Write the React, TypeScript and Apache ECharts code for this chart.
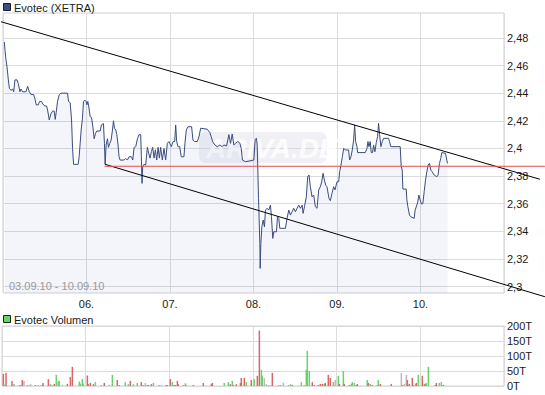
import React, { useEffect, useRef } from "react";
import * as echarts from "echarts";

// x axis in trading days since the open of 03.09.10
const xLabels = ["06.", "07.", "08.", "09.", "10."];
const dateRange = "03.09.10 - 10.09.10";

const priceTimes = [
  0.016, 0.024, 0.036, 0.048, 0.064, 0.076, 0.096, 0.116, 0.128, 0.143, 0.167, 0.183, 0.203, 0.215, 0.235, 0.275,
  0.295, 0.315, 0.335, 0.367, 0.382, 0.398, 0.422, 0.438, 0.462, 0.478, 0.502, 0.522, 0.534, 0.554, 0.574, 0.594,
  0.613, 0.625, 0.637, 0.653, 0.673, 0.693, 0.773, 0.785, 0.805, 0.821, 0.833, 0.845, 0.9, 0.912, 0.924, 0.936,
  0.952, 0.964, 0.98, 0.996, 1.004, 1.016, 1.028, 1.044, 1.06, 1.076, 1.092, 1.108, 1.123, 1.163, 1.179, 1.203,
  1.215, 1.223, 1.235, 1.251, 1.263, 1.279, 1.295, 1.311, 1.323, 1.335, 1.351, 1.363, 1.378, 1.39, 1.402, 1.45,
  1.47, 1.49, 1.51, 1.538, 1.554, 1.57, 1.59, 1.61, 1.629, 1.649, 1.657, 1.665, 1.673, 1.689, 1.709, 1.729,
  1.745, 1.761, 1.777, 1.793, 1.809, 1.825, 1.841, 1.857, 1.873, 1.888, 1.908, 1.928, 1.948, 1.968, 1.988, 2.016,
  2.036, 2.056, 2.068, 2.08, 2.096, 2.116, 2.135, 2.167, 2.179, 2.195, 2.215, 2.259, 2.275, 2.295, 2.327, 2.347,
  2.367, 2.406, 2.446, 2.478, 2.494, 2.51, 2.538, 2.566, 2.598, 2.625, 2.645, 2.677, 2.705, 2.725, 2.745, 2.765,
  2.785, 2.813, 2.837, 2.853, 2.868, 2.904, 3.004, 3.02, 3.036, 3.044, 3.052, 3.06, 3.068, 3.076, 3.08, 3.088,
  3.1, 3.116, 3.131, 3.143, 3.163, 3.183, 3.203, 3.215, 3.231, 3.243, 3.275, 3.287, 3.303, 3.315, 3.382, 3.402,
  3.422, 3.442, 3.462, 3.482, 3.502, 3.522, 3.542, 3.562, 3.582, 3.594, 3.61, 3.633, 3.649, 3.665, 3.681, 3.701,
  3.721, 3.741, 3.761, 3.781, 3.801, 3.817, 3.833, 3.849, 3.864, 3.88, 3.904, 3.92, 3.94, 3.96, 3.976, 4.0,
  4.02, 4.032, 4.048, 4.064, 4.08, 4.1, 4.139, 4.151, 4.167, 4.183, 4.199, 4.211, 4.223, 4.239, 4.247, 4.339,
  4.359, 4.371, 4.383, 4.398, 4.41, 4.426, 4.438, 4.454, 4.47, 4.486, 4.498, 4.51, 4.526, 4.542, 4.558, 4.617,
  4.629, 4.645, 4.757, 4.769, 4.781, 4.789, 4.829, 4.837, 4.849, 4.868, 4.884, 4.924, 4.936, 4.956, 4.968, 4.98,
  4.996, 5.012, 5.028, 5.044, 5.06, 5.076, 5.092, 5.107, 5.123, 5.139, 5.163, 5.195, 5.211, 5.227, 5.243, 5.255,
  5.299, 5.315, 5.323,
];

const priceValues = [
  2.477, 2.471, 2.464, 2.459, 2.4496, 2.4435, 2.442, 2.443, 2.441, 2.4496, 2.4496, 2.447, 2.441, 2.443, 2.441, 2.441,
  2.445, 2.441, 2.439, 2.439, 2.436, 2.4315, 2.4315, 2.434, 2.434, 2.432, 2.4307, 2.4307, 2.4278, 2.4206, 2.425, 2.427,
  2.427, 2.421, 2.426, 2.434, 2.4387, 2.44, 2.44, 2.434, 2.433, 2.4206, 2.4, 2.3885, 2.3885, 2.394, 2.4037, 2.4133,
  2.422, 2.434, 2.435, 2.434, 2.4315, 2.434, 2.43, 2.423, 2.4225, 2.4157, 2.407, 2.411, 2.4126, 2.4126, 2.417, 2.418,
  2.4037, 2.3885, 2.4025, 2.407, 2.4008, 2.4037, 2.406, 2.4133, 2.42, 2.4146, 2.4133, 2.41, 2.4025, 2.394, 2.3916, 2.3916,
  2.3928, 2.3916, 2.394, 2.394, 2.3916, 2.4008, 2.4013, 2.407, 2.41, 2.41, 2.394, 2.3747, 2.3868, 2.3885, 2.388, 2.4008,
  2.3965, 2.393, 2.3977, 2.4008, 2.393, 2.399, 2.3916, 2.4008, 2.393, 2.4008, 2.3916, 2.4, 2.3916, 2.4037, 2.405, 2.4013,
  2.405, 2.405, 2.417, 2.405, 2.4013, 2.4013, 2.394, 2.394, 2.4037, 2.4133, 2.4157, 2.4157, 2.406, 2.405, 2.405, 2.4085,
  2.4146, 2.4143, 2.4139, 2.4114, 2.4085, 2.405, 2.4025, 2.4013, 2.4025, 2.4013, 2.4025, 2.4018, 2.41, 2.4037, 2.4104, 2.4025,
  2.4037, 2.405, 2.4037, 2.4, 2.3916, 2.3904, 2.3916, 2.4066, 2.4073, 2.4025, 2.3844, 2.3639, 2.3482, 2.3313, 2.3132, 2.3313,
  2.3433, 2.3482, 2.3433, 2.3554, 2.3567, 2.3554, 2.359, 2.3506, 2.3349, 2.3397, 2.3397, 2.3506, 2.3494, 2.3422, 2.3422, 2.3494,
  2.3554, 2.3518, 2.3542, 2.3567, 2.3542, 2.3567, 2.359, 2.3567, 2.359, 2.353, 2.3578, 2.365, 2.3795, 2.3808, 2.3723, 2.365,
  2.3663, 2.3578, 2.3567, 2.37, 2.3723, 2.3759, 2.382, 2.3771, 2.3735, 2.3723, 2.3639, 2.3622, 2.3675, 2.3723, 2.37, 2.3759,
  2.3759, 2.3832, 2.388, 2.394, 2.4, 2.3989, 2.3989, 2.3916, 2.394, 2.3989, 2.406, 2.417, 2.405, 2.4013, 2.397, 2.397,
  2.4, 2.405, 2.4013, 2.405, 2.397, 2.397, 2.4025, 2.3976, 2.4042, 2.4085, 2.4182, 2.41, 2.4013, 2.405, 2.4073, 2.4073,
  2.405, 2.4013, 2.4013, 2.3868, 2.3844, 2.3706, 2.3706, 2.3627, 2.3578, 2.3518, 2.3506, 2.3494, 2.3554, 2.359, 2.3614, 2.3663,
  2.3627, 2.3598, 2.36, 2.3687, 2.3771, 2.3832, 2.388, 2.3892, 2.3844, 2.3832, 2.3808, 2.3795, 2.3808, 2.3892, 2.3928, 2.397,
  2.3965, 2.3916, 2.3892,
];

const priceTicks = [2.3, 2.32, 2.34, 2.36, 2.38, 2.4, 2.42, 2.44, 2.46, 2.48];

// trend channel and support level (day, price)
const upperTrend = [[-0.024, 2.4917], [6.43, 2.3777]];
const lowerTrend = [[1.223, 2.3885], [6.49, 2.2927]];
const supportLevel = 2.3871;
const supportRange = [1.215, 6.49];

// volume in thousands; u = up (green), d = down (red), n = unchanged (gray)
const volTimes = [
  0.016, 0.024, 0.048, 0.119, 0.143, 0.207, 0.223, 0.243, 0.263, 0.303, 0.327, 0.343, 0.398, 0.434, 0.47, 0.49,
  0.554, 0.578, 0.594, 0.625, 0.649, 0.673, 0.685, 0.721, 0.781, 0.817, 0.841, 0.924, 0.936, 0.96, 0.972, 1.02,
  1.032, 1.056, 1.092, 1.116, 1.187, 1.223, 1.283, 1.319, 1.378, 1.402, 1.474, 1.51, 1.534, 1.57, 1.617, 1.665,
  1.689, 1.713, 1.733, 1.749, 1.785, 1.809, 1.88, 1.904, 1.964, 1.976, 2.012, 2.036, 2.056, 2.072, 2.096, 2.107,
  2.167, 2.191, 2.203, 2.287, 2.406, 2.502, 2.514, 2.657, 2.705, 2.729, 2.753, 2.765, 2.801, 2.849, 2.86, 2.896,
  2.92, 2.98, 3.016, 3.052, 3.076, 3.1, 3.111, 3.135, 3.159, 3.183, 3.207, 3.231, 3.303, 3.327, 3.363, 3.426,
  3.45, 3.47, 3.578, 3.613, 3.637, 3.649, 3.673, 3.709, 3.733, 3.781, 3.805, 3.829, 3.852, 3.864, 3.9, 3.924,
  3.96, 3.984, 4.02, 4.032, 4.08, 4.091, 4.151, 4.175, 4.187, 4.211, 4.235, 4.247, 4.366, 4.378, 4.402, 4.426,
  4.486, 4.498, 4.522, 4.653, 4.773, 4.785, 4.809, 4.833, 4.845, 4.868, 4.904, 4.916, 4.94, 4.952, 4.976, 5.024,
  5.048, 5.06, 5.072, 5.096, 5.179, 5.191, 5.227, 5.251, 5.275,
];
const volValues = [
  40, 5, 44, 17, 7, 3, 4, 20, 17, 3, 3, 6, 3, 3, 3, 10,
  23, 6, 3, 7, 37, 15, 17, 3, 7, 30, 64, 15, 8, 23, 8, 35,
  6, 10, 6, 13, 3, 10, 3, 37, 20, 3, 13, 6, 17, 6, 10, 13,
  3, 10, 3, 3, 6, 10, 3, 3, 3, 3, 23, 13, 3, 3, 17, 6,
  3, 9, 3, 3, 10, 6, 10, 10, 13, 6, 17, 3, 6, 10, 27, 27,
  13, 20, 23, 34, 185, 54, 34, 27, 6, 3, 3, 44, 3, 3, 10, 3,
  6, 3, 13, 3, 54, 117, 50, 13, 3, 3, 7, 7, 7, 10, 37, 27,
  13, 20, 34, 7, 50, 7, 3, 7, 13, 10, 3, 7, 20, 10, 7, 3,
  3, 20, 7, 7, 44, 3, 7, 37, 20, 7, 27, 3, 7, 10, 37, 34,
  7, 7, 10, 64, 3, 10, 10, 13, 3,
];
const volDirs = [
  "d", "u", "d", "d", "u", "u", "u", "d", "n", "u", "n", "n", "d", "u", "u", "d",
  "d", "u", "u", "d", "u", "u", "u", "n", "d", "d", "d", "u", "u", "u", "u", "d",
  "d", "d", "d", "u", "u", "d", "u", "u", "d", "d", "u", "u", "d", "u", "u", "d",
  "u", "n", "u", "d", "d", "u", "u", "n", "d", "d", "d", "u", "d", "d", "d", "d",
  "u", "u", "u", "d", "d", "d", "d", "u", "u", "d", "u", "d", "d", "d", "d", "d",
  "u", "d", "u", "d", "d", "u", "u", "n", "n", "n", "n", "d", "u", "u", "n", "u",
  "u", "d", "u", "u", "u", "u", "u", "d", "d", "d", "d", "d", "u", "d", "d", "d",
  "u", "n", "u", "d", "u", "d", "d", "u", "u", "u", "d", "d", "u", "d", "u", "d",
  "u", "u", "d", "d", "n", "d", "n", "n", "d", "d", "d", "d", "n", "d", "u", "d",
  "d", "u", "u", "u", "d", "d", "u", "u", "d",
];
const volTicks = [0, 50, 100, 150, 200];

const FONT = '"Liberation Sans", Arial, sans-serif';
const dirColor: Record<string, string> = { u: "#66d466", d: "#e06363", n: "#b9b9b9" };

export default function App() {
  const ref = useRef<HTMLDivElement>(null);

  useEffect(() => {
    if (!ref.current) return;
    const chart = echarts.init(ref.current, undefined, { renderer: "svg" });

    const priceData = priceTimes.map((t, i) => [t, priceValues[i]]);
    const volData = volTimes.map((t, i) => ({
      value: [t, volValues[i]],
      itemStyle: { color: dirColor[volDirs[i]] },
    }));

    const gridLine = { show: true, lineStyle: { color: "#dcdcdc", width: 1 } };
    const labelBase = { color: "#1a1a1a", fontSize: 11, fontFamily: FONT };

    const baseGraphic: any[] = [
      { type: "rect", z: 1, shape: { x: 199, y: 132, width: 128, height: 31, r: 7 }, style: { fill: "rgba(215,215,225,0.35)" } },
      { type: "text", z: 1, x: 206, y: 148, style: { text: "ARIVA.DE", font: `italic bold 28px ${FONT}`, fill: "rgba(255,255,255,0.85)", verticalAlign: "middle" } },
      { type: "rect", z: 10, shape: { x: 3.5, y: 3.5, width: 7, height: 7 }, style: { fill: "#3d4f80", stroke: "#1a1a2a", lineWidth: 1 } },
      { type: "text", z: 10, x: 14, y: 8, style: { text: "Evotec (XETRA)", font: `11px ${FONT}`, fill: "#1a1a1a", verticalAlign: "middle" } },
      { type: "rect", z: 10, shape: { x: 3.5, y: 315.5, width: 7, height: 7 }, style: { fill: "#66d466", stroke: "#1a2a1a", lineWidth: 1 } },
      { type: "text", z: 10, x: 14, y: 320, style: { text: "Evotec Volumen", font: `11px ${FONT}`, fill: "#1a1a1a", verticalAlign: "middle" } },
      { type: "text", z: 10, x: 9, y: 286, style: { text: dateRange, font: `11px ${FONT}`, fill: "#9a9a9a", verticalAlign: "middle" } },
    ];

    chart.setOption({
      animation: false,
      backgroundColor: "#ffffff",
      grid: [
        { left: 2, top: 13, width: 502, height: 280, show: true, borderColor: "#d0d0d0", borderWidth: 1, backgroundColor: "transparent" },
        { left: 2, top: 326, width: 502, height: 60, show: true, borderColor: "#d0d0d0", borderWidth: 1, backgroundColor: "transparent" },
      ],
      xAxis: [
        {
          gridIndex: 0, type: "value", min: 0, max: 6, interval: 1,
          axisLine: { show: false }, axisTick: { show: false }, splitLine: gridLine,
          axisLabel: { ...labelBase, margin: 5, formatter: (v: number) => xLabels[v - 1] ?? "" },
        },
        {
          gridIndex: 1, type: "value", min: 0, max: 6, interval: 1,
          axisLine: { show: false }, axisTick: { show: false }, splitLine: gridLine,
          axisLabel: { show: false },
        },
      ],
      yAxis: [
        {
          gridIndex: 0, type: "value", position: "right", min: 2.2954, max: 2.498,
          axisLine: { show: false },
          axisTick: { show: false, customValues: priceTicks },
          splitLine: gridLine,
          axisLabel: {
            ...labelBase, margin: 3, customValues: priceTicks,
            formatter: (v: number) => String(Math.round(v * 100) / 100).replace(".", ","),
          },
        },
        {
          gridIndex: 1, type: "value", position: "right", min: 0, max: 200, interval: 50,
          axisLine: { show: false },
          axisTick: { show: false, customValues: volTicks },
          splitLine: gridLine,
          axisLabel: { ...labelBase, margin: 3, customValues: volTicks, formatter: (v: number) => `${v}T` },
        },
      ],
      series: [
        {
          type: "line", xAxisIndex: 0, yAxisIndex: 0, data: priceData, symbol: "none", z: 3,
          lineStyle: { color: "#3b4c7e", width: 1 },
          areaStyle: { origin: "start", color: "rgba(45,80,190,0.08)" },
        },
        {
          type: "bar", xAxisIndex: 1, yAxisIndex: 1, data: volData, barWidth: 1.5, z: 3,
        },
      ],
      graphic: baseGraphic,
    });

    // trend channel lines run past the plot area, so they are placed via the axes' own scales
    const toPx = (d: number[]) => chart.convertToPixel({ xAxisIndex: 0, yAxisIndex: 0 }, d) as number[];
    const seg = (a: number[], b: number[], color: string) => {
      const p1 = toPx(a);
      const p2 = toPx(b);
      return {
        type: "line", z: 20,
        shape: { x1: p1[0], y1: p1[1], x2: p2[0], y2: p2[1] },
        style: { stroke: color, lineWidth: 1 },
      };
    };
    chart.setOption({
      graphic: [
        ...baseGraphic,
        seg(upperTrend[0], upperTrend[1], "#000000"),
        seg(lowerTrend[0], lowerTrend[1], "#000000"),
        seg([supportRange[0], supportLevel], [supportRange[1], supportLevel], "#e55050"),
      ],
    });

    return () => chart.dispose();
  }, []);

  return (
    <div
      ref={ref}
      style={{ position: "fixed", left: 0, top: 0, width: 545, height: 395, background: "#fff" }}
    />
  );
}
